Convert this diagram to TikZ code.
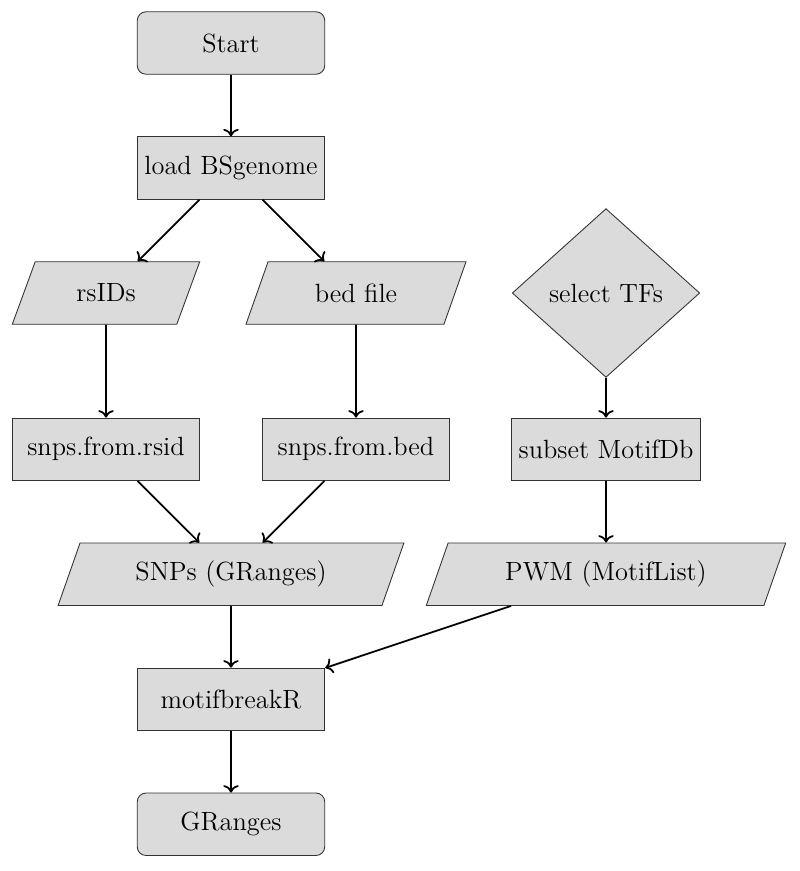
\documentclass[tikz,border=0pt]{standalone}
\usepackage{tikz}
\usetikzlibrary{arrows}
\usetikzlibrary{arrows.meta,positioning,shapes.geometric}
\tikzset{
  startbox/.style={rectangle,rounded corners,minimum width=3cm,minimum height=1cm,draw=black!80,fill=gray!28,font=\large},
  procbox/.style={rectangle,minimum width=3cm,minimum height=1cm,draw=black!80,fill=gray!28,font=\large},
  iobox/.style={trapezium,trapezium left angle=70,trapezium right angle=110,trapezium stretches=true,minimum height=1cm,draw=black!80,fill=gray!28,font=\large},
  decbox/.style={diamond,aspect=1.1,inner sep=0pt,minimum width=3cm,minimum height=2.7cm,draw=black!80,fill=gray!28,font=\large},
  flowarrow/.style={thick,->}
}
\begin{document}
\begin{tikzpicture}[node distance=2cm,on grid]
  \useasboundingbox (-3.696,0.688) rectangle (9.104,-13.248);
  \node[startbox] (start) at (0,0) {Start};
  \node[procbox,below=of start] (bsgenome) {load BSgenome};
  \node[iobox,minimum width=3cm,below left=2cm and 2cm of bsgenome] (rsids) {rsIDs};
  \node[iobox,minimum width=3.54cm,below right=2cm and 2cm of bsgenome] (bedfile) {bed file};
  \node[decbox,right=4cm of bedfile] (seltfs) {select TFs};
  \node[procbox,below=2.5cm of rsids] (fromrsid) {snps.from.rsid};
  \node[procbox,below=2.5cm of bedfile] (frombed) {snps.from.bed};
  \node[procbox,below=2.5cm of seltfs] (motifdb) {subset MotifDb};
  \node[iobox,minimum width=5.54cm,below right=2cm and 2cm of fromrsid] (snps) {SNPs (GRanges)};
  \node[iobox,minimum width=5.76cm,below=of motifdb] (pwm) {PWM (MotifList)};
  \node[procbox,below=of snps] (mbreak) {motifbreakR};
  \node[startbox,below=of mbreak] (result) {GRanges};
  \draw[flowarrow] (start)--(bsgenome);
  \draw[flowarrow] (bsgenome)--(rsids);
  \draw[flowarrow] (bsgenome)--(bedfile);
  \draw[flowarrow] (rsids)--(fromrsid);
  \draw[flowarrow] (bedfile)--(frombed);
  \draw[flowarrow] (seltfs)--(motifdb);
  \draw[flowarrow] (fromrsid)--(snps);
  \draw[flowarrow] (frombed)--(snps);
  \draw[flowarrow] (motifdb)--(pwm);
  \draw[flowarrow] (snps)--(mbreak);
  \draw[flowarrow] (pwm)--(mbreak);
  \draw[flowarrow] (mbreak)--(result);
\end{tikzpicture}
\end{document}
